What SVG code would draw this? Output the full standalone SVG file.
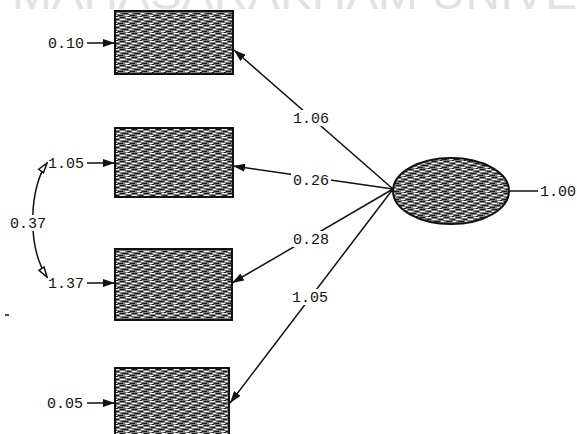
<svg xmlns="http://www.w3.org/2000/svg" width="577" height="434" viewBox="0 0 577 434">
<style>
.lbl{font-family:"Liberation Mono","DejaVu Sans Mono",monospace;font-size:15px;fill:#111}
.bg{fill:#fff}
.ln{stroke:#111;stroke-width:1.5;fill:none}
.node{fill:url(#tex);stroke:#111;stroke-width:2}
.wm{font-family:"Liberation Sans",Arial,sans-serif;font-size:44px;fill:#e2e2e2}
</style>
<defs>
<pattern id="tex" width="12" height="8" patternUnits="userSpaceOnUse">
<rect width="12" height="8" fill="#7d7d7d"/>
<path d="M0 1.5h5M7 3.5h4M2 5.5h6M0 7.5h3M10 7.5h2M8 0.5h2" stroke="#1a1a1a" stroke-width="1"/>
<path d="M6 1.5h5M0 3.5h5M9 5.5h3M5 7.5h4" stroke="#eeeeee" stroke-width="1"/>
</pattern>
<marker id="a" viewBox="0 0 12 8" refX="12" refY="4" markerWidth="12" markerHeight="8" markerUnits="userSpaceOnUse" orient="auto"><path d="M0 0L12 4L0 8z" fill="#111"/></marker>
<marker id="h" viewBox="0 0 12 8" refX="11" refY="4" markerWidth="12" markerHeight="8" markerUnits="userSpaceOnUse" orient="auto-start-reverse"><path d="M1 1L11 4L1 7z" fill="#fff" stroke="#111" stroke-width="1.5"/></marker>
</defs>
<text class="wm" x="12" y="9" textLength="565" lengthAdjust="spacingAndGlyphs">MAHASARAKHAM UNIVE</text>
<g id="connectors">
<path class="ln" d="M393 189L234 50" marker-end="url(#a)"/>
<path class="ln" d="M393 189L233 166" marker-end="url(#a)"/>
<path class="ln" d="M393 189L232 283" marker-end="url(#a)"/>
<path class="ln" d="M393 189L230 403" marker-end="url(#a)"/>
<path class="ln" d="M87 43L115 43" marker-end="url(#a)"/>
<path class="ln" d="M87 163L115 163" marker-end="url(#a)"/>
<path class="ln" d="M87 283L115 283" marker-end="url(#a)"/>
<path class="ln" d="M87 403L115 403" marker-end="url(#a)"/>
<path class="ln" d="M538 191L510 191" stroke-width="1"/>
<path class="ln" d="M47 163C30 186 26 245 47 277" marker-start="url(#h)" marker-end="url(#h)"/>
<rect class="bg" x="291" y="110" width="40" height="16"/>
<text class="lbl" x="293" y="123">1.06</text>
<rect class="bg" x="291" y="172" width="40" height="16"/>
<text class="lbl" x="293" y="185">0.26</text>
<rect class="bg" x="291" y="231" width="40" height="16"/>
<text class="lbl" x="293" y="244">0.28</text>
<rect class="bg" x="290" y="289" width="40" height="16"/>
<text class="lbl" x="292" y="302">1.05</text>
<rect class="bg" x="8" y="215" width="40" height="16"/>
<text class="lbl" x="10" y="228">0.37</text>
</g>
<g id="x1"><rect class="node" x="115" y="11" width="118" height="63"/><text class="lbl" x="48" y="48">0.10</text></g>
<g id="x2"><rect class="node" x="115" y="128" width="118" height="69"/><text class="lbl" x="48" y="168">1.05</text></g>
<g id="x3"><rect class="node" x="115" y="249" width="117" height="71"/><text class="lbl" x="48" y="288">1.37</text></g>
<g id="x4"><rect class="node" x="115" y="368" width="114" height="70"/><text class="lbl" x="47" y="408">0.05</text></g>
<g id="latent"><ellipse class="node" cx="451" cy="191" rx="58" ry="33"/><text class="lbl" x="540" y="196">1.00</text></g>
<path d="M5 315H9" stroke="#111" stroke-width="1.5"/>
</svg>
